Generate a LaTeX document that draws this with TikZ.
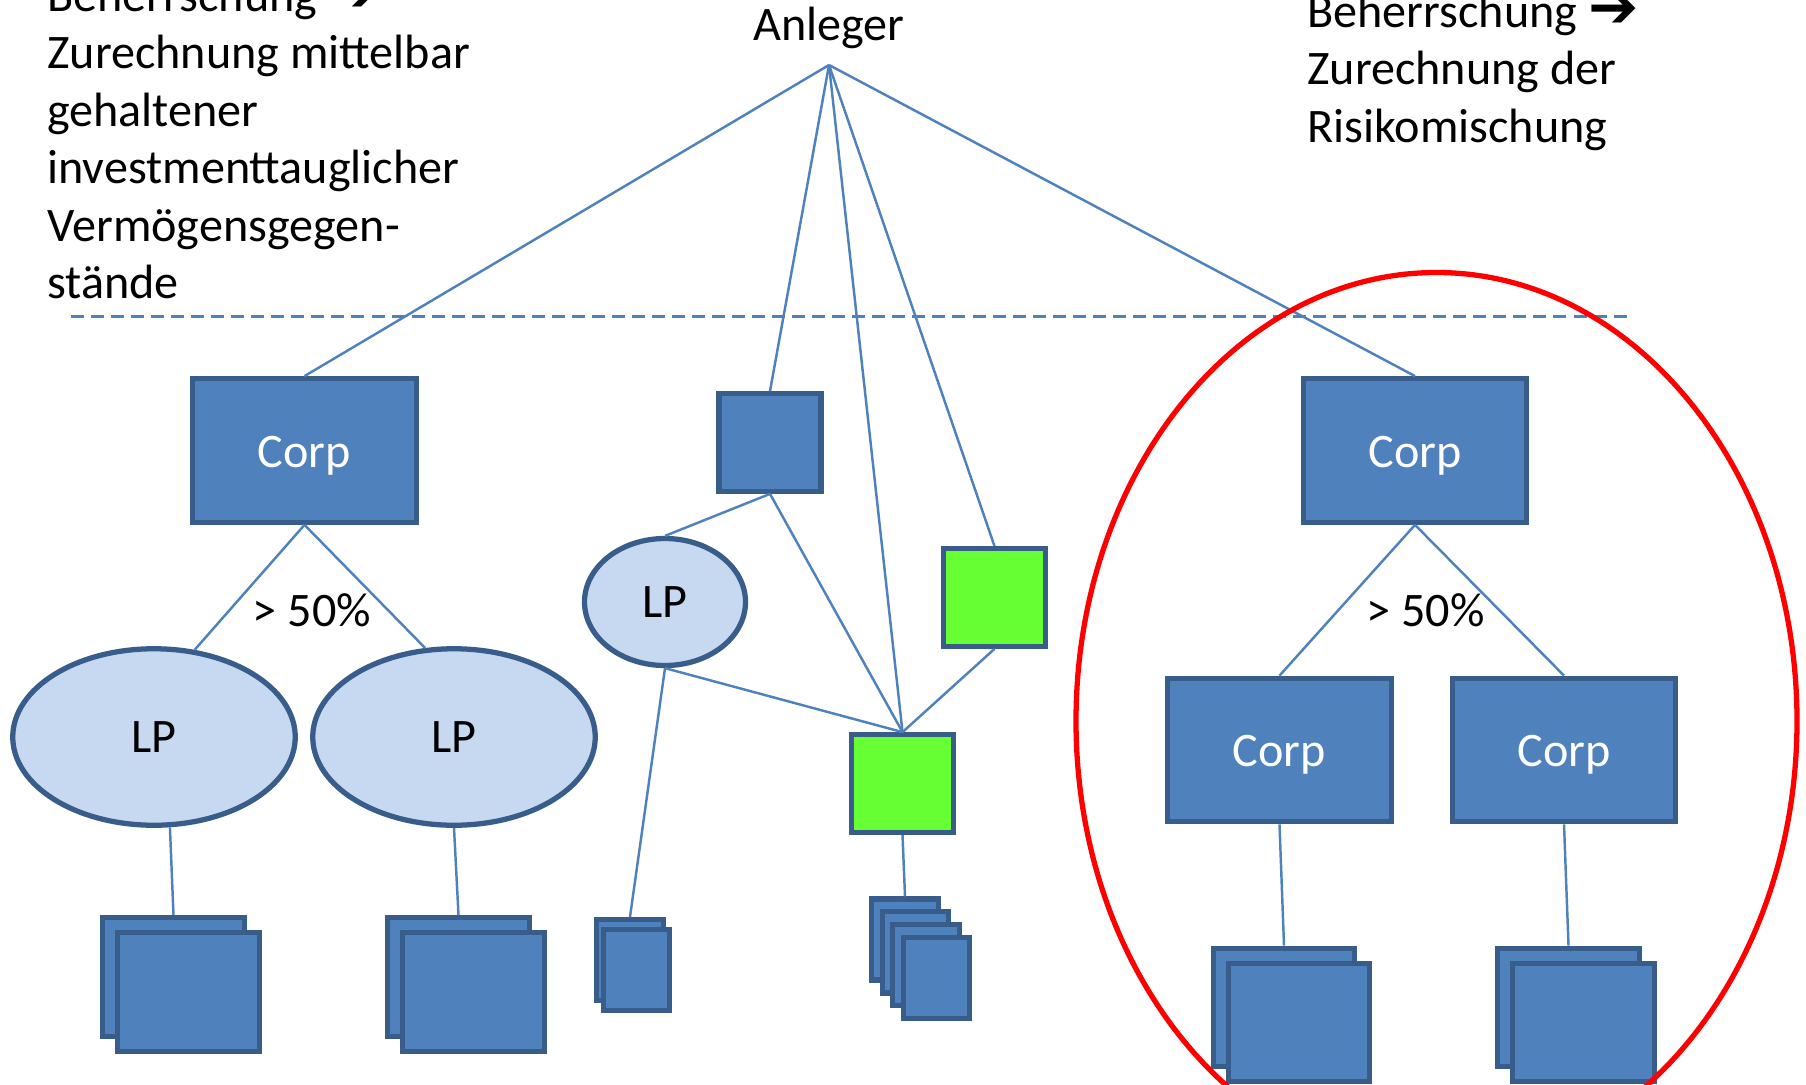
\documentclass[tikz,border=0pt]{standalone}
\usepackage{fontspec}
\setmainfont{Carlito}
\newfontfamily\arrowfont{DejaVu Sans}
\usetikzlibrary{shapes.geometric}

\definecolor{officeblue}{HTML}{4F81BD}
\definecolor{officedark}{HTML}{385D8A}
\definecolor{lpfill}{HTML}{C6D9F1}
\definecolor{brightgreen}{HTML}{66FF33}

\newcommand{\fatarrow}{\smash{\scalebox{1.25}{\arrowfont ➔}}}

\tikzset{
  note/.style={anchor=north west, align=left, inner sep=0},
  corpbox/.style={draw=officedark, fill=officeblue, line width=3pt, inner sep=0,
    minimum width=4.47cm, minimum height=2.87cm, text=white,
    text height=24.3pt, text depth=5.5pt},
  holdbox/.style={draw=officedark, fill=officeblue, line width=3pt, inner sep=0,
    minimum width=2.04cm, minimum height=1.95cm},
  greenbox/.style={holdbox, fill=brightgreen},
  lpbig/.style={ellipse, draw=officedark, fill=lpfill, line width=3pt, inner sep=0,
    minimum width=5.65cm, minimum height=3.53cm},
  lpsmall/.style={lpbig, minimum width=3.22cm, minimum height=2.54cm},
  assetbox/.style={draw=officedark, fill=officeblue, line width=3pt, inner sep=0,
    minimum width=2.83cm, minimum height=2.37cm},
  minibox/.style={assetbox, minimum width=1.33cm, minimum height=1.62cm},
  link/.style={officeblue, line width=1.4pt},
  seplink/.style={officeblue, line width=1.4pt, dash pattern=on 7.4pt off 4pt},
  focus/.style={red, line width=3pt}
}

\begin{document}
\begin{tikzpicture}[font=\fontsize{27.4}{32.7}\selectfont]
  \useasboundingbox (0,0) rectangle (36.12,-21.68);

  % Anleger und Texte
  \node[anchor=base] (anleger) at (16.58,-0.82) {Anleger};
  \coordinate (apex) at (16.58,-1.30);
  \node[note] (noteL) at (0.94,0.45) {Beherrschung \fatarrow\\Zurechnung mittelbar\\gehaltener\\investmenttauglicher\\Vermögensgegen-\\stände};
  \node[note] (noteR) at (26.14,0.13) {Beherrschung \fatarrow\\Zurechnung der\\Risikomischung};
  \coordinate (sepL) at (1.42,-6.33);
  \coordinate (sepR) at (32.64,-6.33);
  \draw[seplink] (sepL) -- (sepR);

  % linker Zweig
  \node[corpbox] (corpL) at (6.09,-9.01) {Corp};
  \node[lpbig] (lpA) at (3.08,-14.74) {LP};
  \node[lpbig] (lpB) at (9.08,-14.74) {LP};
  \node[anchor=base] (pctL) at (6.24,-12.52) {> 50\%};
  \node[assetbox] (astA1) at (3.47,-19.54) {};
  \node[assetbox] (astA2) at (3.77,-19.84) {};
  \node[assetbox] (astB1) at (9.17,-19.54) {};
  \node[assetbox] (astB2) at (9.47,-19.84) {};

  % mittlerer Zweig
  \node[holdbox] (mid) at (15.40,-8.85) {};
  \node[lpsmall] (lpC) at (13.30,-12.04) {LP};
  \node[greenbox] (grnA) at (19.89,-11.95) {};
  \node[greenbox] (grnB) at (18.05,-15.67) {};
  \node[minibox] (astC1) at (12.60,-19.20) {};
  \node[minibox] (astC2) at (12.73,-19.40) {};
  \foreach \i in {1,...,4}
    \node[minibox] (astD\i) at ({18.10+0.21*(\i-1)},{-18.79-0.257*(\i-1)}) {};

  % rechter Zweig
  \node[corpbox] (corpR) at (28.30,-9.01) {Corp};
  \node[corpbox] (corpR1) at (25.59,-15.00) {Corp};
  \node[corpbox] (corpR2) at (31.28,-15.00) {Corp};
  \node[anchor=base] (pctR) at (28.51,-12.52) {> 50\%};
  \node[assetbox] (astE1) at (25.68,-20.15) {};
  \node[assetbox] (astE2) at (25.98,-20.45) {};
  \node[assetbox] (astF1) at (31.37,-20.15) {};
  \node[assetbox] (astF2) at (31.67,-20.45) {};

  % Verbindungen
  \draw[link] (apex) -- (corpL.north);
  \draw[link] (apex) -- (mid.north);
  \draw[link] (apex) -- (grnB.north);
  \draw[link] (apex) -- (grnA.north);
  \draw[link] (apex) -- (corpR.north);
  \draw[link] (corpL.south) -- (lpA.65);
  \draw[link] (corpL.south) -- (lpB.108);
  \draw[link] (lpA.-80) -- (astA1.north);
  \draw[link] (lpB.south) -- (astB1.north);
  \draw[link] (mid.south) -- (lpC.north);
  \draw[link] (mid.south) -- (grnB.north);
  \draw[link] (lpC.south) -- (grnB.north);
  \draw[link] (lpC.south) -- (astC1.north);
  \draw[link] (grnA.south) -- (grnB.north);
  \draw[link] (grnB.south) -- (astD1.north);
  \draw[link] (corpR.south) -- (corpR1.north);
  \draw[link] (corpR.south) -- (corpR2.north);
  \draw[link] (corpR1.south) -- (astE1.north);
  \draw[link] (corpR2.south) -- (astF1.north);

  % Beherrschung
  \draw[focus] (28.73,-14.42) ellipse [x radius=7.21, y radius=8.97];
\end{tikzpicture}
\end{document}
